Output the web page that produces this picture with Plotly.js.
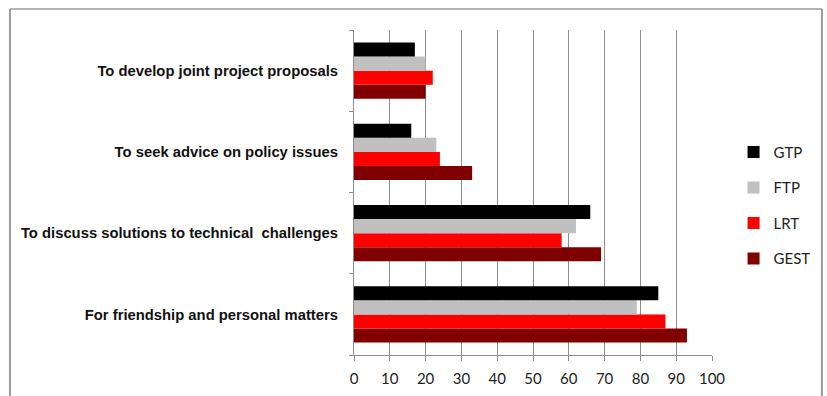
<!DOCTYPE html>
<html>
<head>
<meta charset="utf-8">
<script src="https://cdn.plot.ly/plotly-3.0.1.min.js"></script>
<style>html,body{margin:0;padding:0;background:#fff;}#chart{width:827px;height:396px;}</style>
</head>
<body>
<div id="chart"></div>
<script>
// Categories listed bottom-to-top
const categories = [
  "For friendship and personal matters",
  "To discuss solutions to technical  challenges",
  "To seek advice on policy issues",
  "To develop joint project proposals"
];
const seriesNames = ["GEST", "LRT", "FTP", "GTP"];
const GEST = [93, 69, 33, 20];
const LRT  = [87, 58, 24, 22];
const FTP  = [79, 62, 23, 20];
const GTP  = [85, 66, 16, 17];
const xTicks = [0, 10, 20, 30, 40, 50, 60, 70, 80, 90, 100];

const colors = {GEST: "#800000", LRT: "#ff0000", FTP: "#c0c0c0", GTP: "#000000"};
const ranks = {GTP: 1, FTP: 2, LRT: 3, GEST: 4};
const values = {GEST, LRT, FTP, GTP};

const traces = seriesNames.map(n => ({
  type: "bar",
  orientation: "h",
  name: n,
  legendgroup: n,
  legendrank: ranks[n],
  y: categories,
  x: values[n],
  marker: {color: colors[n], line: {width: 0}},
  hoverinfo: "x+name"
}));

const layout = {
  width: 827, height: 396,
  margin: {l: 354, r: 115, t: 30, b: 41},
  paper_bgcolor: "#fff", plot_bgcolor: "#fff",
  barmode: "group",
  bargap: 0.31,
  bargroupgap: 0,
  font: {family: "Liberation Sans, Arial, sans-serif", color: "#000"},
  xaxis: {
    range: [0, 100],
    tickvals: xTicks,
    ticktext: xTicks.map(String),
    showgrid: true, gridcolor: "#8c8c8c", gridwidth: 1,
    showline: true, linecolor: "#8c8c8c", linewidth: 1,
    ticks: "outside", ticklen: 5, tickcolor: "#8c8c8c",
    tickfont: {family: "Lato, Open Sans, sans-serif", size: 15, color: "#222"},
    ticklabelstandoff: 5,
    zeroline: false, fixedrange: true
  },
  yaxis: {
    type: "category",
    categoryorder: "array", categoryarray: categories,
    tickson: "boundaries",
    ticks: "outside", ticklen: 4, tickcolor: "#8c8c8c",
    showline: true, linecolor: "#8c8c8c", linewidth: 1,
    showgrid: false,
    tickfont: {family: "Liberation Sans, Arial, sans-serif", size: 14.8, color: "#111", weight: "bold"},
    ticklabelstandoff: 12,
    fixedrange: true
  },
  legend: {
    xref: "container", yref: "container",
    x: 0.887, y: 0.482, xanchor: "left", yanchor: "middle",
    traceorder: "grouped",
    tracegroupgap: 13,
    font: {family: "Lato, Open Sans, sans-serif", size: 15, color: "#222"},
    bgcolor: "rgba(0,0,0,0)"
  },
  shapes: [
    {type: "line", xref: "paper", yref: "paper", x0: -0.961, x1: -0.961, y0: 1.065, y1: -0.13, line: {color: "#9a9a9a", width: 2}},
    {type: "line", xref: "paper", yref: "paper", x0: -0.961, x1: 1.307, y0: 1.065, y1: 1.065, line: {color: "#9a9a9a", width: 1.5}},
    {type: "line", xref: "paper", yref: "paper", x0: 1.307, x1: 1.307, y0: 1.065, y1: -0.13, line: {color: "#9a9a9a", width: 2}}
  ],
  showlegend: true
};

Plotly.newPlot("chart", traces, layout, {displayModeBar: false, staticPlot: true});
</script>
</body>
</html>
